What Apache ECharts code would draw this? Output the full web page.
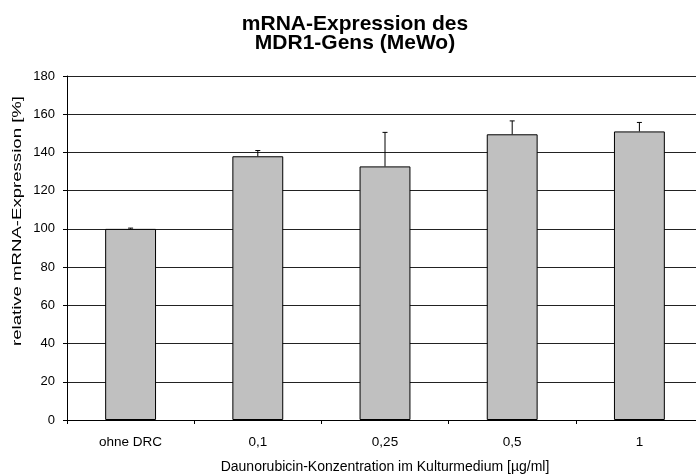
<!DOCTYPE html>
<html>
<head>
<meta charset="utf-8">
<script src="https://cdn.jsdelivr.net/npm/echarts@6/dist/echarts.min.js"></script>
<style>
  html, body { margin: 0; padding: 0; background: #fff; }
  #chart { width: 696px; height: 474px; }
</style>
</head>
<body>
<div id="chart"></div>
<script>
var categories = ['ohne DRC', '0,1', '0,25', '0,5', '1'];
var expression = [100, 138, 132.7, 149.5, 151];
var errors = [0.4, 3, 17.8, 7, 4.7];
var yTicks = [0, 20, 40, 60, 80, 100, 120, 140, 160, 180];

var myChart = echarts.init(document.getElementById('chart'));
var font = 'Liberation Sans, Arial, sans-serif';

// obere Fehlerbalken: [index, wert, wert+fehler]
var errData = expression.map(function (v, i) {
  return [i, v, v + errors[i]];
});

option = {
  animation: false,
  title: {
    text: 'mRNA-Expression des\nMDR1-Gens (MeWo)',
    left: 350,
    top: 10,
    textAlign: 'center',
    textStyle: {
      fontFamily: font,
      fontSize: 21,
      fontWeight: 'bold',
      color: '#000',
      lineHeight: 19
    }
  },
  graphic: [{
    type: 'text',
    x: 17,
    y: 221,
    rotation: Math.PI / 2,
    scaleX: 1.43,
    style: {
      text: 'relative mRNA-Expression [%]',
      fontFamily: font,
      fontSize: 13,
      fill: '#000',
      align: 'center',
      verticalAlign: 'middle'
    }
  }],
  grid: {
    left: 67,
    top: 76,
    width: 636,
    height: 344,
    outerBoundsMode: 'none'
  },
  xAxis: {
    type: 'category',
    data: categories,
    name: 'Daunorubicin-Konzentration im Kulturmedium [µg/ml]',
    nameLocation: 'middle',
    nameGap: 40,
    nameTextStyle: { fontFamily: font, fontSize: 14, color: '#000' },
    axisLine: { lineStyle: { color: '#000', width: 1 } },
    axisTick: { show: true, length: 4, lineStyle: { color: '#000' } },
    axisLabel: { fontFamily: font, fontSize: 13.5, color: '#000', margin: 15 },
    splitLine: { show: false }
  },
  yAxis: {
    type: 'value',
    min: yTicks[0],
    max: yTicks[yTicks.length - 1],
    interval: 20,
    axisLine: { show: true, lineStyle: { color: '#000', width: 1 } },
    axisTick: { show: true, length: 4, lineStyle: { color: '#000' } },
    axisLabel: { fontFamily: font, fontSize: 13, color: '#000', margin: 12 },
    splitLine: { show: true, lineStyle: { color: '#222', width: 1 } }
  },
  series: [{
    type: 'bar',
    data: expression,
    barWidth: '40%',
    itemStyle: {
      color: '#c0c0c0',
      borderColor: '#000',
      borderWidth: 1
    },
    z: 2
  }, {
    type: 'custom',
    data: errData,
    z: 3,
    renderItem: function (params, api) {
      var base = api.coord([api.value(0), api.value(1)]);
      var top = api.coord([api.value(0), api.value(2)]);
      var half = 2.5;
      var style = { stroke: '#000', lineWidth: 1 };
      return {
        type: 'group',
        children: [{
          type: 'line',
          shape: { x1: base[0], y1: base[1], x2: top[0], y2: top[1] },
          style: style
        }, {
          type: 'line',
          shape: { x1: top[0] - half, y1: top[1], x2: top[0] + half, y2: top[1] },
          style: style
        }]
      };
    }
  }]
};

myChart.setOption(option);
window.addEventListener('resize', function () {
  myChart.resize();
});
</script>
</body>
</html>
